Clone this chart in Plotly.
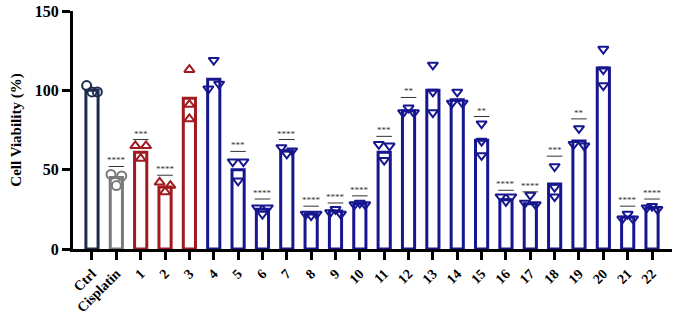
import plotly.graph_objects as go

categories = ["Ctrl", "Cisplatin"] + [str(i) for i in range(1, 23)]
bar_values = [100, 45, 61, 39, 95, 107, 50, 25, 62, 22, 24, 28.5, 61, 87, 100, 94,
              68.5, 31, 28.5, 41, 68, 114, 20, 26]
point_values = [
    [103, 99, 99], [47, 40, 46], [65, 57, 65], [42, 36, 40], [113, 91, 82],
    [101, 119, 104], [55, 43, 55], [26, 22, 26], [64, 60, 62], [22, 21, 22],
    [23, 25, 22], [28, 29, 28], [66, 56, 65], [86, 89, 86], [116, 99, 86],
    [92, 99, 92], [79, 68, 59], [33, 30, 33], [29, 34, 28], [52, 39, 33],
    [66, 76, 65], [126, 113, 103], [19, 22, 19], [26, 27, 25],
]
groups = ["ctrl", "cis"] + ["red"] * 3 + ["blue"] * 19
sig_labels = {"Cisplatin": ("****", 52), "1": ("***", 69), "2": ("****", 46.5),
              "5": ("***", 61.5), "6": ("****", 31.5), "7": ("****", 69),
              "8": ("****", 27), "9": ("****", 29), "10": ("****", 33.5),
              "11": ("***", 71), "12": ("**", 95.5), "15": ("**", 83.5),
              "16": ("****", 37), "17": ("****", 36), "18": ("***", 58.5),
              "19": ("**", 82), "21": ("****", 27), "22": ("****", 31.5)}

colors = {"ctrl": "#1d2b4f", "cis": "#7a7a7a", "red": "#a11a1f", "blue": "#16168f"}
symbols = {"ctrl": "circle-open", "cis": "circle-open", "red": "triangle-up-open",
           "blue": "triangle-down-open"}

xs = list(range(len(categories)))
fig = go.Figure()
fig.add_trace(go.Bar(
    x=xs, y=bar_values, width=0.5,
    marker=dict(color="white", line=dict(color=[colors[g] for g in groups], width=3)),
    hoverinfo="skip",
))

STEP = 0.22
THR = 4.6
for i, (vals, g) in enumerate(zip(point_values, groups)):
    coll = [any(abs(v - w) < THR for j, w in enumerate(vals) if j != k) for k, v in enumerate(vals)]
    idx = [k for k in range(3) if coll[k]]
    offs = [0.0] * 3
    if len(idx) == 3:
        offs = [-STEP, 0.0, STEP]
    elif len(idx) == 2:
        offs[idx[0]] = -STEP
        offs[idx[1]] = STEP
    fig.add_trace(go.Scatter(
        x=[i + o for o in offs], y=vals, mode="markers",
        marker=dict(symbol=symbols[g], size=9, color=colors[g], line=dict(width=2)),
        hoverinfo="skip",
    ))

shapes = []
annotations = []
for cat, (txt, yv) in sig_labels.items():
    i = categories.index(cat)
    shapes.append(dict(type="line", xref="x", yref="y", x0=i - 0.32, x1=i + 0.32,
                       y0=yv, y1=yv, line=dict(color="#333333", width=1)))
    annotations.append(dict(x=i, y=yv, xref="x", yref="y", text=txt, showarrow=False,
                            yanchor="bottom", yshift=-1,
                            font=dict(family="Liberation Serif", size=9, color="#333333")))

fig.update_layout(
    width=675, height=318,
    margin=dict(l=73, r=3, t=8, b=67),
    plot_bgcolor="white", paper_bgcolor="white",
    showlegend=False,
    shapes=shapes, annotations=annotations,
    xaxis=dict(range=[-0.78, 23.82], tickmode="array", tickvals=xs, ticktext=categories,
               tickangle=-45, showline=True, linecolor="black", linewidth=3,
               ticks="outside", ticklen=8, tickwidth=3, tickcolor="black",
               showgrid=False, zeroline=False,
               tickfont=dict(family="Liberation Serif", size=14, color="black")),
    yaxis=dict(range=[0, 150], tickvals=[0, 50, 100, 150], showline=True,
               linecolor="black", linewidth=3, ticks="outside", ticklen=8, tickwidth=3,
               tickcolor="black", showgrid=False, zeroline=False,
               ticklabeloverflow="allow",
               tickfont=dict(family="Liberation Serif", size=16, color="black"),
               title=dict(text="<b>Cell Viability (%)</b>", standoff=10,
                          font=dict(family="Liberation Serif", size=15, color="black"))),
)
fig.update_xaxes(tickfont_weight="bold")
fig.update_yaxes(tickfont_weight="bold")
fig.write_html("out.html")
